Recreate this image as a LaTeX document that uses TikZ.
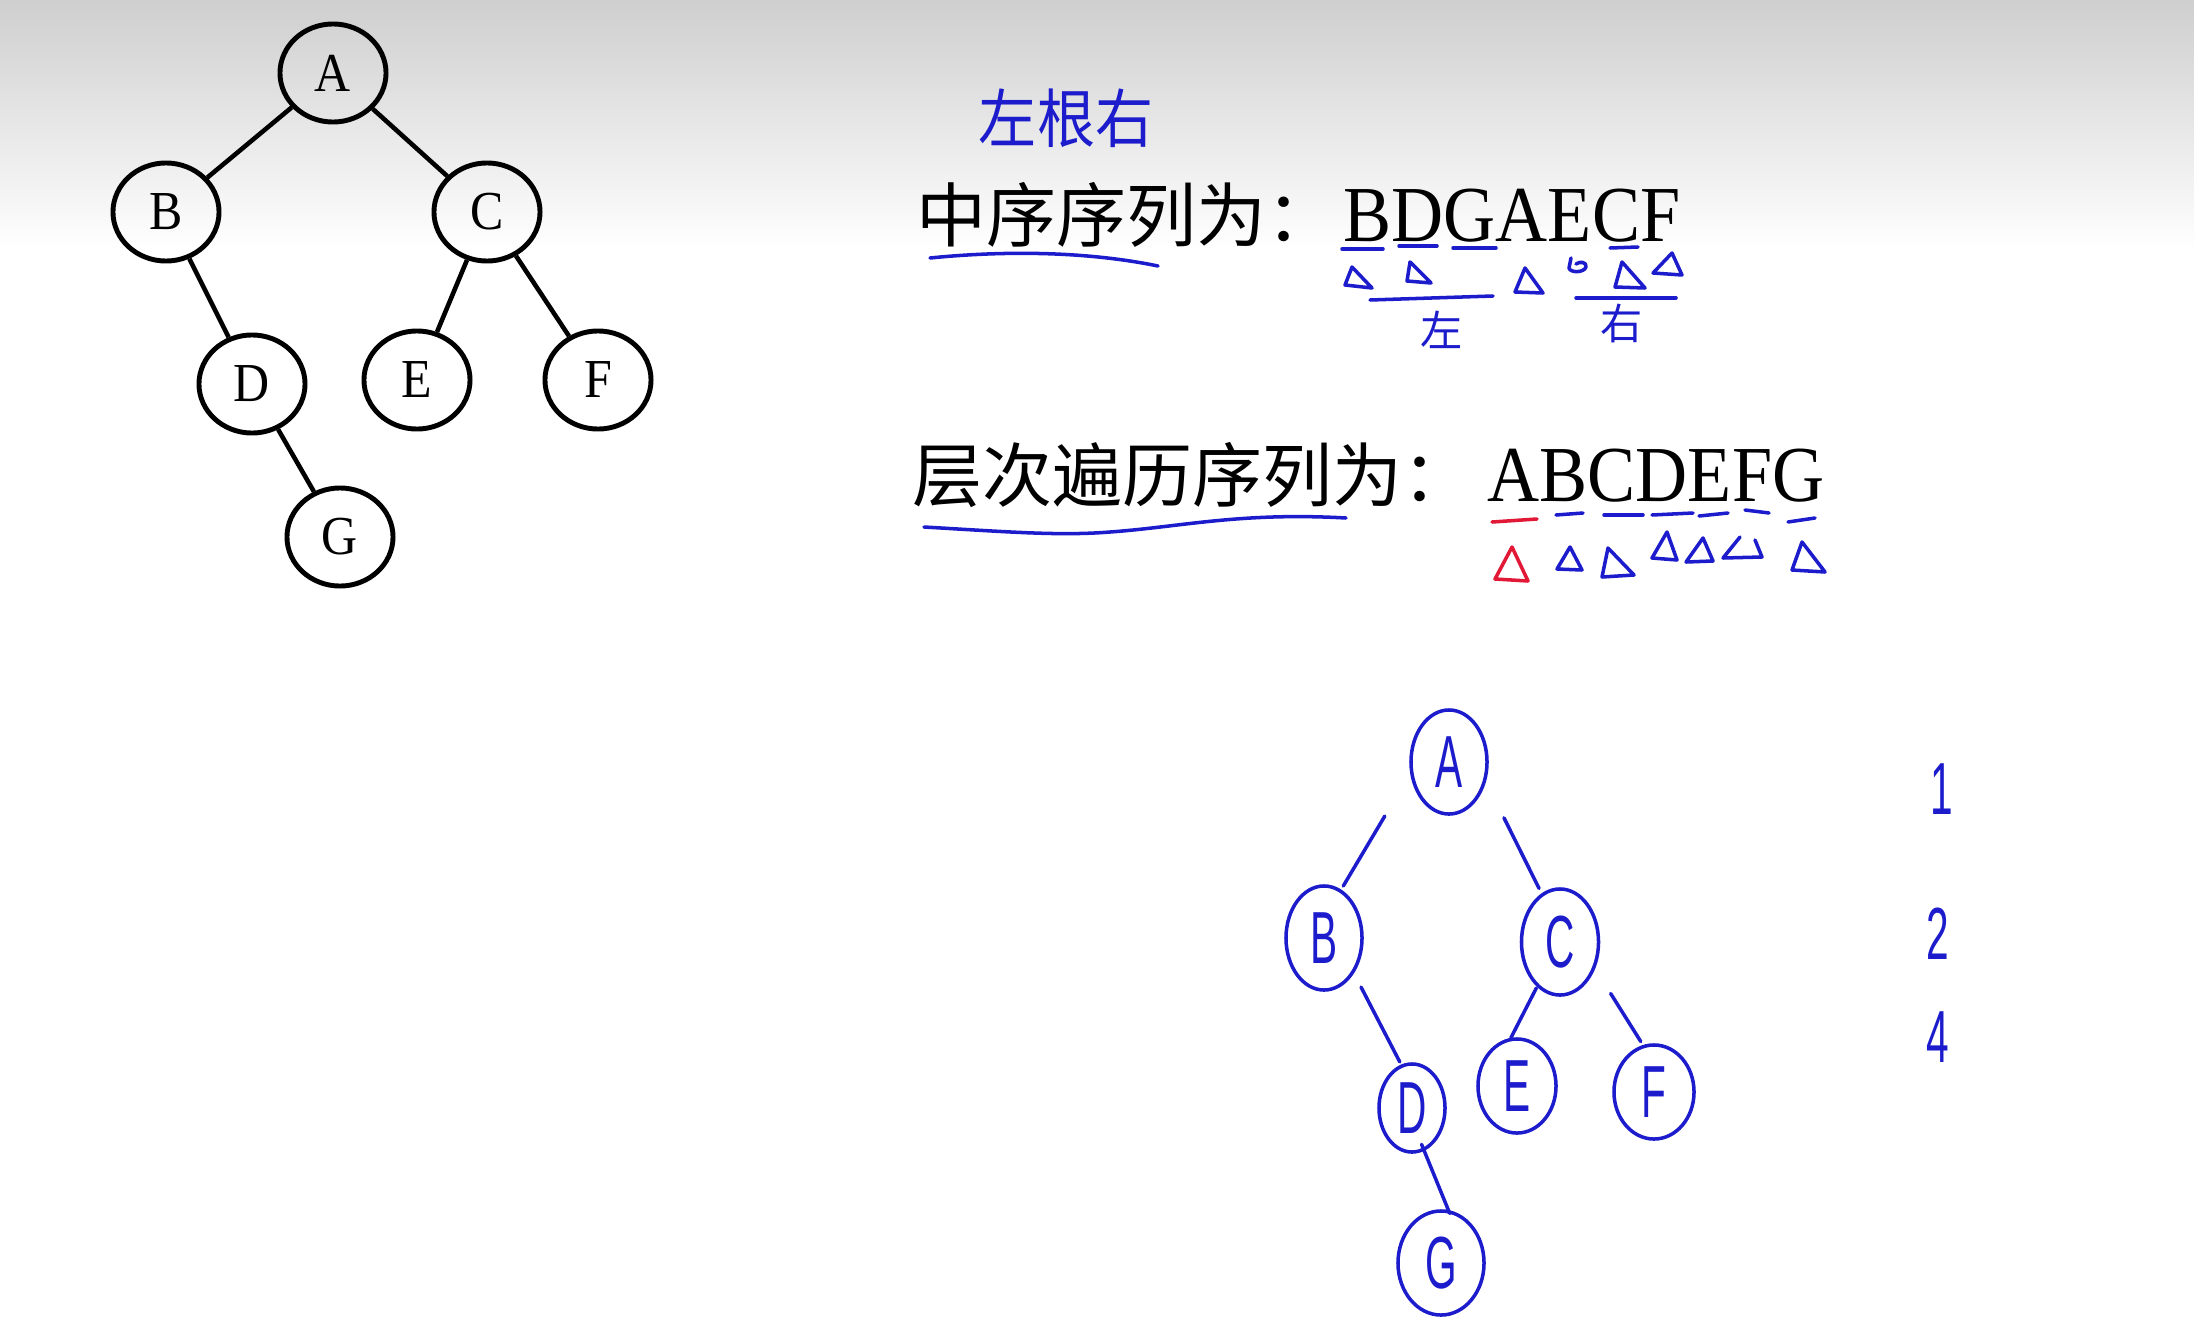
\documentclass[tikz,border=0pt]{standalone}
\usepackage{fontspec}
\setmainfont{Liberation Serif}
\newfontfamily\cjk{Noto Sans CJK SC}
\newfontfamily\handfont{Liberation Sans}
\usetikzlibrary{shapes.geometric,calc}
\definecolor{inkblue}{RGB}{28,28,205}
\definecolor{inkred}{RGB}{225,25,55}
\newcommand{\tallbox}[1]{\scalebox{1}[1.1]{#1}}
\newcommand{\handletter}[1]{{\handfont\fontsize{21}{21}\selectfont\scalebox{0.55}[1]{#1}}}
\newcommand{\handtri}[4][ink]{\draw[#1] #2 -- #3 -- #4 -- cycle;}
\tikzset{
  vertex/.style={draw,ellipse,line width=1.4pt,minimum width=1.06cm,minimum height=0.98cm,
    inner sep=0pt,font=\fontsize{14.2}{16}\selectfont},
  handnode/.style={draw=inkblue,ellipse,line width=1pt,inner sep=0pt,text=inkblue},
  ink/.style={draw=inkblue,line width=1pt,line cap=round,line join=round},
  redink/.style={draw=inkred,line width=1pt,line cap=round,line join=round},
  seqlabel/.style={anchor=base west,inner sep=0pt,font=\cjk\fontsize{19.9}{22}\selectfont},
  seqletters/.style={anchor=base west,inner sep=0pt,font=\fontsize{20.5}{24}\selectfont},
  inknote/.style={inner sep=0pt,text=inkblue,font=\cjk\fontsize{16.5}{18}\selectfont},
}
\begin{document}
\begin{tikzpicture}[x=0.01cm,y=-0.01cm]
  \useasboundingbox (0,0) rectangle (2194,1324);
  \fill[white] (0,0) rectangle (2194,1324);
  \shade[top color=black!19,bottom color=white] (0,0) rectangle (2194,250);

  % printed tree
  \draw
    (333,73) node[vertex] (A){\tallbox{A}}
    (166,212) node[vertex] (B){\tallbox{B}}
    (487,212) node[vertex] (C){\tallbox{C}}
    (252,384) node[vertex] (D){\tallbox{D}}
    (417,380) node[vertex] (E){\tallbox{E}}
    (598,380) node[vertex] (F){\tallbox{F}}
    (340,537) node[vertex] (G){\tallbox{G}};
  \begin{scope}[-,line width=1.3pt]
    \draw (A) to (B);
    \draw (A) to (C);
    \draw (B) to (D);
    \draw (C) to (E);
    \draw (C) to (F);
    \draw (D) to (G);
  \end{scope}

  % sequences
  \node[seqlabel] (inlabel) at (916,241) {中序序列为：};
  \node[seqletters] (inseq) at (1343,241) {\tallbox{BDGAECF}};
  \node[seqlabel] (lvlabel) at (912,501) {层次遍历序列为：};
  \node[seqletters] (lvseq) at (1487,501) {\tallbox{ABCDEFG}};

  % handwritten notes
  \node[inknote] (lnr) at (1066,118) {\tallbox{左根右}};
  \draw[ink] (930,258) .. controls (1010,250) and (1090,252) .. (1158,266);
  \draw[ink] (1342,249) -- (1383,249);
  \draw[ink] (1399,246) -- (1437,246);
  \draw[ink] (1453,248) -- (1496,248);
  \draw[ink] (1610,248) -- (1638,247);
  \handtri{(1352,267)}{(1345,285)}{(1372,288)}
  \handtri{(1410,262)}{(1407,281)}{(1431,283)}
  \handtri{(1525,268)}{(1515,292)}{(1543,293)}
  \handtri{(1622,262)}{(1615,287)}{(1645,288)}
  \handtri{(1672,253)}{(1653,273)}{(1682,275)}
  \draw[ink] (1571,258) -- (1569,268) .. controls (1570,273) and (1584,273) .. (1586,267)
    .. controls (1587,262) and (1580,261) .. (1576,264);
  \draw[ink] (1370,300) -- (1493,296);
  \draw[ink] (1576,298) -- (1676,298);
  \node[inknote,font=\cjk\fontsize{12}{14}\selectfont] (leftpart) at (1442,330) {左};
  \node[inknote,font=\cjk\fontsize{12}{14}\selectfont] (rightpart) at (1622,323) {右};

  \draw[ink] (924,527) .. controls (1010,532) and (1060,536) .. (1110,532)
    .. controls (1180,527) and (1240,512) .. (1346,518);
  \draw[redink] (1492,522) -- (1537,519);
  \draw[ink] (1556,515) -- (1583,513);
  \draw[ink] (1604,515) -- (1643,515);
  \draw[ink] (1652,515) -- (1693,513);
  \draw[ink] (1699,516) -- (1728,513);
  \draw[ink] (1745,510) -- (1769,513);
  \draw[ink] (1788,522) -- (1815,518);
  \handtri[redink]{(1512,547)}{(1495,579)}{(1528,581)}
  \handtri{(1570,547)}{(1557,569)}{(1582,570)}
  \handtri{(1608,548)}{(1602,577)}{(1634,575)}
  \handtri{(1667,532)}{(1652,558)}{(1677,560)}
  \handtri{(1703,538)}{(1686,562)}{(1713,561)}
  \draw[ink] (1740,537) -- (1723,558) -- (1762,557) -- (1755,540);
  \handtri{(1802,542)}{(1792,570)}{(1825,572)}

  % hand-drawn tree
  \node[handnode,minimum width=0.76cm,minimum height=1.04cm] (hA) at (1449,762) {\handletter{A}};
  \node[handnode,minimum width=0.76cm,minimum height=1.04cm] (hB) at (1324,938) {\handletter{B}};
  \node[handnode,minimum width=0.77cm,minimum height=1.06cm] (hC) at (1560,942) {\handletter{C}};
  \node[handnode,minimum width=0.66cm,minimum height=0.88cm] (hD) at (1412,1108) {\handletter{D}};
  \node[handnode,minimum width=0.78cm,minimum height=0.94cm] (hE) at (1517,1086) {\handletter{E}};
  \node[handnode,minimum width=0.80cm,minimum height=0.94cm] (hF) at (1654,1092) {\handletter{F}};
  \node[handnode,minimum width=0.86cm,minimum height=1.04cm] (hG) at (1441,1263) {\handletter{G}};
  \begin{scope}[ink]
    \draw ($(hA)!0.37!(hB)+(-18,-11)$) -- ($(hA)!0.75!(hB)+(-12,-8)$);
    \draw ($(hA)!0.36!(hC)+(15,-9)$) -- ($(hA)!0.73!(hC)+(9,-5)$);
    \draw ($(hB)!0.33!(hD)+(8,-7)$) -- ($(hB)!0.77!(hD)+(8,-7)$);
    \draw ($(hC)!0.34!(hE)+(-9,-3)$) -- ($(hC)!0.70!(hE)+(-19,-5)$);
    \draw ($(hC)!0.39!(hF)+(14,-7)$) -- ($(hC)!0.71!(hF)+(14,-7)$);
    \draw ($(hD)!0.26!(hG)+(2,-4)$) -- ($(hD)!0.68!(hG)+(18,0)$);
  \end{scope}

  % level counts
  \node[inner sep=0pt,text=inkblue] (lv1) at (1942,789) {\handletter{1}};
  \node[inner sep=0pt,text=inkblue] (lv2) at (1938,934) {\handletter{2}};
  \node[inner sep=0pt,text=inkblue] (lv4) at (1938,1037) {\handletter{4}};
\end{tikzpicture}
\end{document}
